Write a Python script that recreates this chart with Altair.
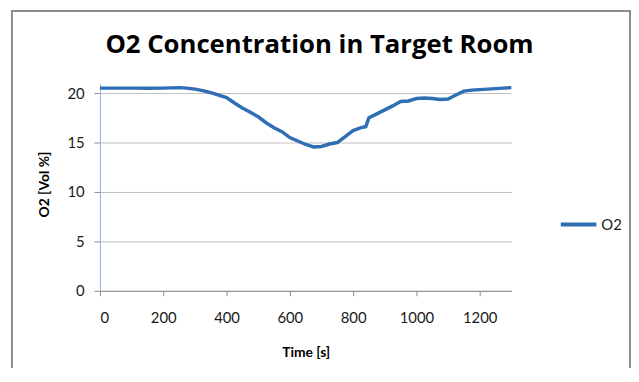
import altair as alt
import pandas as pd

time_s = [0, 50, 100, 150, 200, 250, 275, 300, 325, 350, 375, 400, 425, 450, 475,
          500, 525, 550, 575, 600, 625, 650, 675, 700, 725, 750, 775, 800, 825,
          840, 850, 875, 900, 925, 950, 975, 1000, 1025, 1050, 1075, 1100, 1125,
          1150, 1175, 1200, 1225, 1250, 1275, 1300]
o2_vol = [20.5, 20.5, 20.5, 20.48, 20.5, 20.55, 20.5, 20.4, 20.25, 20.05, 19.8,
          19.55, 19.0, 18.5, 18.05, 17.6, 17.0, 16.5, 16.1, 15.5, 15.15, 14.8,
          14.55, 14.6, 14.85, 15.0, 15.6, 16.2, 16.5, 16.6, 17.5, 17.9, 18.3,
          18.7, 19.15, 19.2, 19.45, 19.5, 19.45, 19.35, 19.4, 19.8, 20.2, 20.3,
          20.35, 20.4, 20.45, 20.5, 20.55]
series = ["O2"]

df = pd.DataFrame({"t": time_s, "o2": o2_vol, "series": series[0]})

FONT = "Lato"

line = alt.Chart(df).mark_line(strokeWidth=3.5).encode(
    x=alt.X("t:Q", scale=alt.Scale(domain=[0, 1300], nice=False),
            axis=alt.Axis(title="Time [s]", values=[0, 200, 400, 600, 800, 1000, 1200],
                          format="d",
                          grid=False, domainColor="#8c8c8c", tickColor="#8c8c8c",
                          tickSize=5, labelPadding=15, labelFontSize=15,
                          titleFontSize=14, titleFontWeight="bold",
                          titleY=62, titleBaseline="middle")),
    y=alt.Y("o2:Q", scale=alt.Scale(domain=[0, 21], nice=False),
            axis=alt.Axis(title="O2 [Vol %]", values=[0, 5, 10, 15, 20],
                          grid=True, gridColor="#bebebe", domainColor="#8db3e2",
                          tickColor="#8c8c8c", tickSize=6, labelPadding=10,
                          labelFontSize=15, titleFontSize=14, titleFontWeight="bold",
                          titleX=-56, titleY=102, titleBaseline="middle")),
    color=alt.Color("series:N", scale=alt.Scale(domain=series, range=["#2f6eb5"]),
                    legend=alt.Legend(title=None, orient="none", legendX=464, legendY=123,
                                      symbolType="stroke", symbolSize=1296,
                                      symbolStrokeWidth=4, labelFontSize=15,
                                      labelOffset=3, labelColor="#1a1a1a")),
)

border = alt.Chart(alt.Data(values=[{}])).mark_rect(
    fill=None, stroke="#8c8c8c", strokeWidth=2
).encode(
    x=alt.value(-89), x2=alt.value(536), y=alt.value(-73), y2=alt.value(400)
)

chart = alt.layer(border, line).properties(
    width=416, height=210,
    title=alt.TitleParams("O2 Concentration in Target Room", font="Open Sans", fontSize=26,
                          fontWeight="bold", anchor="middle", dx=14, offset=-69,
                          baseline="alphabetic", color="#000000"),
    autosize=alt.AutoSizeParams(type="none"),
    padding={"left": 93, "top": 74, "right": 121, "bottom": 76},
).configure(font=FONT).configure_axis(
    labelColor="#1a1a1a", titleColor="#000000", labelFont=FONT, titleFont=FONT
).configure_view(stroke=None)

chart.save("out.html", embed_options={"renderer": "svg", "actions": False})
